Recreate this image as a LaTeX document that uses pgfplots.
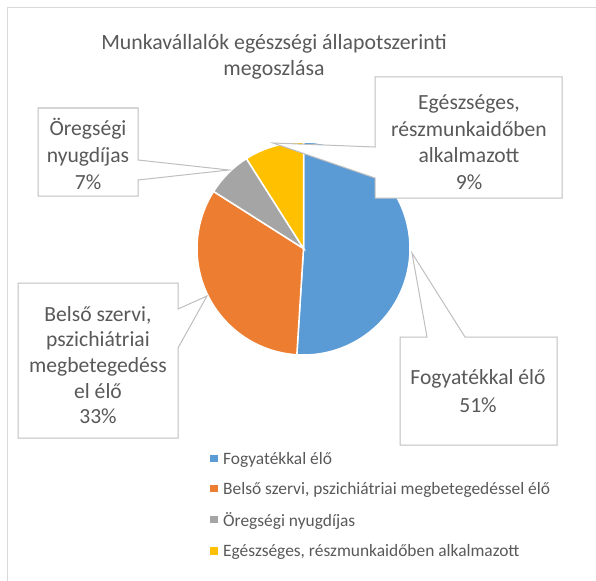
\documentclass[border=0pt]{standalone}
\usepackage{fontspec}
\setmainfont{Carlito}
\usepackage{pgfplots}
\pgfplotsset{compat=1.18}
\definecolor{cblue}{HTML}{5B9BD5}
\definecolor{corange}{HTML}{ED7D31}
\definecolor{cgray}{HTML}{A5A5A5}
\definecolor{cyellow}{HTML}{FFC000}
\definecolor{txt}{HTML}{595959}
\definecolor{boxc}{HTML}{BFBFBF}
\definecolor{framec}{HTML}{D9D9D9}
\begin{document}
\begin{tikzpicture}
\begin{axis}[
  scale only axis, width=596pt, height=580pt,
  xmin=0, xmax=596, ymin=0, ymax=580, y dir=reverse,
  hide axis, clip=false,
  legend style={at={(206/596,1-448/580)}, anchor=north west, draw=none, fill=none,
    font=\fontsize{17.4}{20}\selectfont\color{txt}, row sep=12.6pt,
    legend cell align=left, inner sep=2pt},
  legend image code/.code={\path[#1,draw=none] (2pt,-3.2pt) rectangle (9.5pt,4.3pt);
     \path[draw=none,fill=none] (0pt,-4pt) rectangle (13pt,5pt);},
]
% values (percent): 51, 33, 7, 9 ; start at 12 o'clock, clockwise
\addplot[fill=cblue, draw=white, line width=1.5pt, domain=-90:-90+3.6*51, samples=90]
  ({303.5+106.5*cos(x)},{248.5+106.5*sin(x)}) -- (axis cs:303.5,248.5) -- cycle;
\addlegendentry{Fogyatékkal élő}
\addplot[fill=corange, draw=white, line width=1.5pt, domain=-90+3.6*51:-90+3.6*84, samples=60]
  ({303.5+106.5*cos(x)},{248.5+106.5*sin(x)}) -- (axis cs:303.5,248.5) -- cycle;
\addlegendentry{Belső szervi, pszichiátriai megbetegedéssel élő}
\addplot[fill=cgray, draw=white, line width=1.5pt, domain=-90+3.6*84:-90+3.6*91, samples=20]
  ({303.5+106.5*cos(x)},{248.5+106.5*sin(x)}) -- (axis cs:303.5,248.5) -- cycle;
\addlegendentry{Öregségi nyugdíjas}
\addplot[fill=cyellow, draw=white, line width=1.5pt, domain=-90+3.6*91:-90+3.6*100, samples=20]
  ({303.5+106.5*cos(x)},{248.5+106.5*sin(x)}) -- (axis cs:303.5,248.5) -- cycle;
\addlegendentry{Egészséges, részmunkaidőben alkalmazott}

% frame
\draw[framec, line width=1pt] (axis cs:7,600) -- (axis cs:7,8) -- (axis cs:600,8);

% title
\node[txt, align=center, font=\fontsize{21.8}{25.5}\selectfont] at (axis cs:274,57)
  {Munkavállalók egészségi állapotszerinti\\megoszlása};

% callouts
\draw[boxc, fill=white, line width=1pt]
  (axis cs:38,108) -- (axis cs:138,108) -- (axis cs:138,160) -- (axis cs:229,170)
  -- (axis cs:138,180) -- (axis cs:138,196) -- (axis cs:38,196) -- cycle;
\node[txt, align=center, font=\fontsize{21.6}{27}\selectfont] at (axis cs:88,154)
  {Öregségi\\nyugdíjas\\7\%};

\draw[boxc, fill=white, line width=1pt]
  (axis cs:375,77) -- (axis cs:562,77) -- (axis cs:562,198) -- (axis cs:375,198)
  -- (axis cs:375,178) -- (axis cs:273,143) -- (axis cs:375,147) -- cycle;
\node[txt, align=center, font=\fontsize{21.6}{26.5}\selectfont] at (axis cs:469,142)
  {Egészséges,\\részmunkaidőben\\alkalmazott\\9\%};

\draw[boxc, fill=white, line width=1pt]
  (axis cs:18,283) -- (axis cs:178,283) -- (axis cs:178,309) -- (axis cs:207,296)
  -- (axis cs:178,348) -- (axis cs:178,438) -- (axis cs:18,438) -- cycle;
\node[txt, align=center, font=\fontsize{21.6}{25.7}\selectfont] at (axis cs:98,365)
  {Belső szervi,\\pszichiátriai\\megbetegedéss\\el élő\\33\%};

\draw[boxc, fill=white, line width=1pt]
  (axis cs:400,337) -- (axis cs:427,337) -- (axis cs:412,253) -- (axis cs:465,337)
  -- (axis cs:557,337) -- (axis cs:557,445) -- (axis cs:400,445) -- cycle;
\node[txt, align=center, font=\fontsize{21.6}{28}\selectfont] at (axis cs:478,391)
  {Fogyatékkal élő\\51\%};
\end{axis}
\pgfresetboundingbox
\useasboundingbox (0,0) rectangle (596pt,580pt);
\end{tikzpicture}
\end{document}
